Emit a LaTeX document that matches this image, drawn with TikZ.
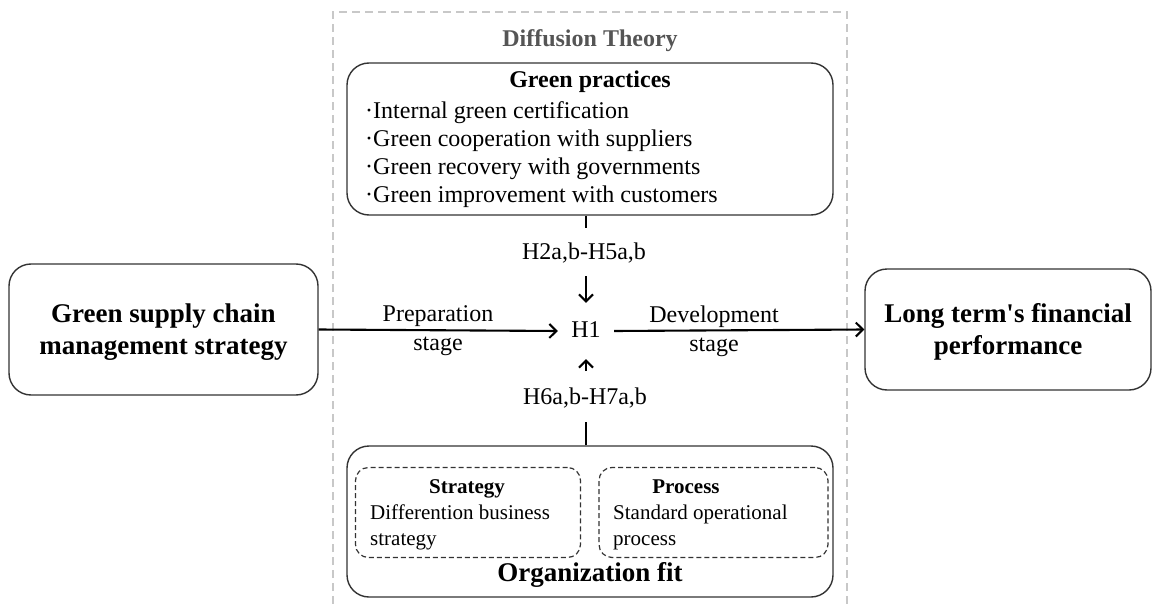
\documentclass[tikz,border=0pt]{standalone}
\usepackage{fontspec}
\setmainfont{Liberation Serif}[Ligatures=TeXOff]
\usetikzlibrary{arrows.meta}
\definecolor{framegray}{HTML}{C8C8C8}
\definecolor{titlegray}{HTML}{555555}
\definecolor{boxline}{HTML}{333333}

\begin{document}
\begin{tikzpicture}[x=1pt,y=-1pt,
  roundbox/.style={draw=boxline, line width=1.4pt, rounded corners=22pt, inner sep=0pt},
  dashbox/.style={draw=boxline, line width=1.2pt, dash pattern=on 5pt off 3pt, rounded corners=13pt, inner sep=0pt},
  txt/.style={inner sep=0pt, text height=17pt, text depth=5pt, font=\fontsize{24}{29}\selectfont},
  small/.style={inner sep=0pt, text height=15pt, text depth=4.6pt, font=\fontsize{21}{27}\selectfont},
  bigbold/.style={inner sep=0pt, align=center, font=\fontsize{27}{32}\selectfont\bfseries},
  flow/.style={line width=2.1pt, -{Straight Barb[length=7pt,width=14pt,line width=2.1pt]}},
  tie/.style={line width=2.1pt}
]
\useasboundingbox (0,0) rectangle (1153,604);

% theory frame, open at the bottom
\draw[framegray, line width=2pt, dash pattern=on 8pt off 5pt]
  (333,604) -- (333,12) -- (847,12) -- (847,604);
\node[txt, text=titlegray, font=\fontsize{24}{29}\selectfont\bfseries] (theory) at (590,41) {Diffusion Theory};

% green practices
\node[roundbox, minimum width=486pt, minimum height=152pt] (gp) at (590,139) {};
\node[txt, font=\fontsize{24}{29}\selectfont\bfseries] (gptitle) at (590,82) {Green practices};
\node[txt, anchor=west] (b1) at (365,113) {·Internal green certification};
\node[txt, anchor=west] (b2) at (365,141) {·Green cooperation with suppliers};
\node[txt, anchor=west] (b3) at (365,169) {·Green recovery with governments};
\node[txt, anchor=west] (b4) at (365,197) {·Green improvement with customers};

% organization fit
\node[roundbox, minimum width=486pt, minimum height=151pt] (org) at (590,521.5) {};
\node[dashbox, minimum width=225pt, minimum height=90pt] (strat) at (468,512.5) {};
\node[dashbox, minimum width=229pt, minimum height=90pt] (proc) at (713.5,512.5) {};
\node[small, font=\fontsize{21}{27}\selectfont\bfseries] (strattitle) at (467,488) {Strategy};
\node[small, anchor=west] (strat1) at (370,514) {Differention business};
\node[small, anchor=west] (strat2) at (370,540) {strategy};
\node[small, font=\fontsize{21}{27}\selectfont\bfseries] (proctitle) at (686,488) {Process};
\node[small, anchor=west] (proc1) at (613,514) {Standard operational};
\node[small, anchor=west] (proc2) at (613,540) {process};
\node[bigbold] (orgtitle) at (590,575) {Organization fit};

% outer boxes
\node[roundbox, minimum width=309pt, minimum height=131pt] (gscm) at (163.5,329.5) {};
\node[bigbold] (gscmtxt) at (163.5,332) {Green supply chain\\management strategy};
\node[roundbox, minimum width=286pt, minimum height=121pt] (lfp) at (1008,329.5) {};
\node[bigbold] (lfptxt) at (1008,332) {Long term's financial\\performance};

% central hypothesis
\node[txt, minimum width=56pt, minimum height=56pt] (h1) at (586,331) {H1};
\node[txt] (h2) at (584,253) {H2a,b-H5a,b};
\node[txt] (h6) at (585,398) {H6a,b-H7a,b};
\node[txt, align=center, text height=, text depth=] (prep) at (438,331) {Preparation\\stage};
\node[txt, align=center, text height=, text depth=] (dev) at (714,331) {Development\\stage};

\coordinate (gpstub) at (586,228);
\coordinate (downtail) at (586,276);
\coordinate (uptail) at (586,371);
\coordinate (orgstub) at (586,422);

\draw[tie] (gp.south -| gpstub) -- (gpstub);
\draw[tie] (org.north -| orgstub) -- (orgstub);
\draw[flow] (downtail) -- (h1.north);
\draw[flow] (uptail) -- (h1.south);
\draw[flow] (gscm.east) -- (h1.west);
\draw[flow] (h1.east) -- (lfp.west);
\end{tikzpicture}
\end{document}
